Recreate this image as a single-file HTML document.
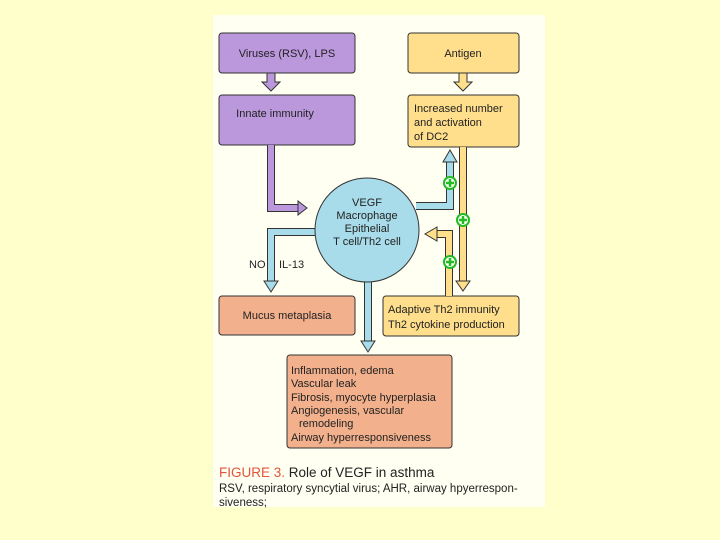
<!DOCTYPE html>
<html><head><style>
body{margin:0;background:#ffffcc;}
svg{display:block;font-family:"Liberation Sans",sans-serif;}
</style></head><body>
<svg width="720" height="540" viewBox="0 0 720 540">
<rect width="720" height="540" fill="#ffffcc"/>
<rect x="213" y="15" width="332" height="492" fill="#fffff2"/>
<g stroke="#333" stroke-width="1">
<rect x="219" y="33" width="136" height="40" rx="3" fill="#bb97dc"/>
<rect x="408" y="33" width="111" height="40" rx="3" fill="#ffdf8c"/>
<rect x="219" y="95" width="136" height="50" rx="3" fill="#bb97dc"/>
<rect x="408" y="95" width="111" height="52" rx="3" fill="#ffdf8c"/>
<rect x="219" y="296" width="136" height="39" rx="3" fill="#f2b08c"/>
<rect x="383" y="296" width="136" height="40" rx="3" fill="#ffdf8c"/>
<rect x="287" y="355" width="165" height="93" rx="3" fill="#f2b08c"/>
</g>
<g stroke="#333" stroke-width="1">
<polygon points="267,73 275,73 275,82 280,82 271,91 262,82 267,82" fill="#bb97dc"/>
<polygon points="459,73 467,73 467,82 472,82 463,91 454,82 459,82" fill="#ffdf8c"/>
</g>
<g fill="none" stroke-linejoin="miter">
<path d="M271 145 V208 H300" stroke="#333" stroke-width="8"/>
<path d="M271 145 V208 H300" stroke="#bb97dc" stroke-width="6"/>
<path d="M416 206 H450 V160" stroke="#333" stroke-width="8"/>
<path d="M416 206 H450 V160" stroke="#a8dcea" stroke-width="6"/>
<path d="M463 147 V283" stroke="#333" stroke-width="8"/>
<path d="M463 147 V283" stroke="#ffdf8c" stroke-width="6"/>
<path d="M449 296 V234 H436" stroke="#333" stroke-width="8"/>
<path d="M449 296 V234 H436" stroke="#ffdf8c" stroke-width="6"/>
<path d="M320 232 H271 V283" stroke="#333" stroke-width="8"/>
<path d="M320 232 H271 V283" stroke="#a8dcea" stroke-width="6"/>
<path d="M368 275 V343" stroke="#333" stroke-width="8"/>
<path d="M368 275 V343" stroke="#a8dcea" stroke-width="6"/>
</g>
<g stroke="#333" stroke-width="1">
<polygon points="298,201 307,208 298,215" fill="#bb97dc"/>
<polygon points="443,162 450,150 457,162" fill="#a8dcea"/>
<polygon points="456,281 463,291 470,281" fill="#ffdf8c"/>
<polygon points="437,227 425,234 437,241" fill="#ffdf8c"/>
<polygon points="264,281 271,292 278,281" fill="#a8dcea"/>
<polygon points="361,341 368,352 375,341" fill="#a8dcea"/>
</g>
<circle cx="367" cy="230" r="52" fill="#a8dcea" stroke="#333" stroke-width="1"/>
<g>
<circle cx="450" cy="183" r="6" fill="#fff" stroke="#22bb22" stroke-width="2"/>
<path d="M446 183h8M450 179v8" stroke="#22bb22" stroke-width="2.5"/>
<circle cx="463" cy="220" r="6" fill="#fff" stroke="#22bb22" stroke-width="2"/>
<path d="M459 220h8M463 216v8" stroke="#22bb22" stroke-width="2.5"/>
<circle cx="450" cy="262" r="6" fill="#fff" stroke="#22bb22" stroke-width="2"/>
<path d="M446 262h8M450 258v8" stroke="#22bb22" stroke-width="2.5"/>
</g>
<g font-size="11" fill="#222">
<text x="287" y="57" text-anchor="middle">Viruses (RSV), LPS</text>
<text x="463" y="57" text-anchor="middle">Antigen</text>
<text x="275" y="117" text-anchor="middle">Innate immunity</text>
<text x="414" y="112">Increased number</text>
<text x="414" y="126">and activation</text>
<text x="414" y="140">of DC2</text>
<text x="367" y="206" text-anchor="middle">VEGF</text>
<text x="367" y="219" text-anchor="middle">Macrophage</text>
<text x="367" y="232" text-anchor="middle">Epithelial</text>
<text x="367" y="245" text-anchor="middle">T cell/Th2 cell</text>
<text x="249" y="268">NO</text>
<text x="279" y="268">IL-13</text>
<text x="287" y="319" text-anchor="middle">Mucus metaplasia</text>
<text x="388" y="313">Adaptive Th2 immunity</text>
<text x="388" y="328">Th2 cytokine production</text>
<text x="291" y="374">Inflammation, edema</text>
<text x="291" y="387">Vascular leak</text>
<text x="291" y="401">Fibrosis, myocyte hyperplasia</text>
<text x="291" y="414">Angiogenesis, vascular</text>
<text x="299" y="427">remodeling</text>
<text x="291" y="441">Airway hyperresponsiveness</text>
</g>
<text x="219" y="477" font-size="13.5" fill="#e0553a">FIGURE 3. <tspan fill="#222">Role of VEGF in asthma</tspan></text>
<text x="219" y="492" font-size="11.5" fill="#222">RSV, respiratory syncytial virus; AHR, airway hpyerrespon-</text>
<text x="219" y="506" font-size="11.5" fill="#222">siveness;</text>
</svg>
</body></html>
